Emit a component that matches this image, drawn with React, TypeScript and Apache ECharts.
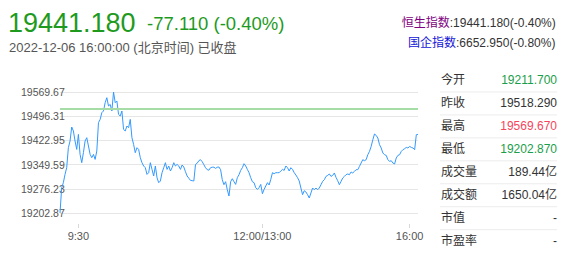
import React, { useEffect, useRef } from 'react';
import * as echarts from 'echarts';

// ---- data ----
const prices: number[] = [
  19202.87, 19279.57, 19294.72, 19319.88, 19340.19, 19400.82, 19421.13, 19463.57, 19451.45, 19421.13,
  19395.67, 19441.14, 19380.51, 19355.35, 19385.67, 19421.13, 19431.14, 19405.98, 19380.51, 19370.51,
  19380.51, 19365.36, 19390.82, 19476.61, 19486.61, 19506.92, 19512.08, 19537.24, 19552.39, 19527.23,
  19532.08, 19512.08, 19569.67, 19537.24, 19542.39, 19501.77,
  19496.92, 19512.08, 19456.3, 19451.45, 19466.6, 19461.45, 19486.61, 19431.14, 19410.83, 19385.67,
  19400.82, 19395.67, 19370.51, 19355.35, 19345.35, 19340.19, 19319.88, 19325.04, 19355.35, 19335.04,
  19315.03, 19345.35, 19309.88, 19294.72, 19299.88, 19325.04, 19340.19, 19355.35, 19335.04, 19345.35,
  19330.19, 19340.19, 19355.35, 19345.35, 19350.2, 19345.35,
  19335.04, 19348.38, 19342.32, 19328.07, 19315.03, 19308.37, 19301.7, 19300.79, 19299.88, 19350.2,
  19353.84, 19361.41, 19364.45, 19358.38, 19349.29, 19340.19, 19334.13, 19332.62, 19340.19, 19341.71,
  19341.71, 19338.07, 19341.71, 19342.32, 19334.13, 19303.82, 19288.66, 19297.76, 19273.5, 19254.41,
  19297.76, 19306.85, 19297.76, 19289.57, 19309.88, 19318.97,
  19332.01, 19340.19, 19352.32, 19345.35, 19335.04, 19325.04, 19309.88, 19297.76, 19294.72, 19279.57,
  19274.41, 19279.57, 19289.57, 19261.38, 19274.41, 19284.72, 19294.72, 19287.75, 19304.73, 19325.04,
  19322.01, 19325.04, 19325.04, 19325.04, 19330.19, 19335.04, 19332.01, 19345.35, 19340.19, 19330.19,
  19340.19, 19335.04, 19325.04, 19318.07, 19309.88, 19299.88,
  19278.66, 19258.35, 19270.48, 19266.53, 19258.35, 19248.34, 19263.5, 19278.66, 19273.5, 19278.66,
  19273.5, 19278.66, 19288.66, 19298.66, 19303.82, 19313.82, 19316.85, 19321.1, 19313.82, 19316.85,
  19324.13, 19310.79, 19300.79, 19288.66, 19298.66, 19308.97, 19313.82, 19318.97, 19321.1, 19318.97,
  19327.16, 19324.13, 19328.98, 19334.13, 19334.13, 19344.14, 19354.44, 19364.45, 19361.41, 19364.45,
  19379.6, 19389.61, 19404.76, 19425.07, 19442.35, 19438.11, 19430.23, 19409.92, 19399.91, 19384.76,
  19379.6, 19377.48, 19364.45, 19359.29, 19361.41, 19354.44, 19351.41, 19369.6, 19377.48, 19379.6,
  19389.61, 19394.76, 19397.79, 19401.73, 19399.91, 19404.76, 19401.73, 19399.91, 19394.76, 19440.23,
  19441.18,
];

const prevClose = 19518.29;
const yMin = 19202.87;
const yMax = 19569.67;
const yInterval = 73.36;

const timeTickIndex = [11, 121, 209];
const timeTickLabels = ['9:30', '12:00/13:00', '16:00'];

const lastPrice = '19441.180';
const changeText = '-77.110 (-0.40%)';
const dateText = '2022-12-06 16:00:00 (北京时间) 已收盘';

const indexNames = ['恒生指数', '国企指数'];
const indexValues = [':19441.180(-0.40%)', ':6652.950(-0.80%)'];

const statLabels = ['今开', '昨收', '最高', '最低', '成交量', '成交额', '市值', '市盈率'];
const statValues = ['19211.700', '19518.290', '19569.670', '19202.870', '189.44亿', '1650.04亿', '-', '-'];
const statKinds = ['down', 'flat', 'up', 'down', 'flat', 'flat', 'flat', 'flat'];

const FONT = '"Liberation Sans", Arial, "Noto Sans CJK SC", sans-serif';
const GREEN = '#1e9a1e';
const TABLE_GREEN = '#1a9e4a';
const RED = '#f5455c';

export default function App() {
  const ref = useRef<HTMLDivElement>(null);

  useEffect(() => {
    if (!ref.current) return;
    const chart = echarts.init(ref.current, undefined, { renderer: 'svg' });

    const graphics: any[] = [];
    graphics.push({
      type: 'text', x: 8, y: 22.5,
      style: { text: lastPrice, fill: GREEN, fontSize: 27, fontFamily: FONT, textVerticalAlign: 'middle', verticalAlign: 'middle' },
    });
    graphics.push({
      type: 'text', x: 147, y: 23,
      style: { text: changeText, fill: GREEN, fontSize: 18.5, fontFamily: FONT, textVerticalAlign: 'middle', verticalAlign: 'middle' },
    });
    graphics.push({
      type: 'text', x: 9, y: 47.5,
      style: { text: dateText, fill: '#555', fontSize: 13, fontFamily: FONT, textVerticalAlign: 'middle', verticalAlign: 'middle' },
    });
    const nameColors = ['#800080', '#1414d8'];
    const nameX = [401.7, 408];
    const nameY = [22.7, 43];
    indexNames.forEach((n, i) => {
      graphics.push({
        type: 'text', x: nameX[i], y: nameY[i],
        style: { text: n, fill: nameColors[i], fontSize: 12, fontFamily: FONT, textVerticalAlign: 'middle', verticalAlign: 'middle' },
      });
      graphics.push({
        type: 'text', x: nameX[i] + 48, y: nameY[i],
        style: { text: indexValues[i], fill: '#333', fontSize: 12, fontFamily: FONT, textVerticalAlign: 'middle', verticalAlign: 'middle' },
      });
    });

    const rowH = 22.95;
    statLabels.forEach((lab, i) => {
      const cy = 80 + i * rowH;
      const kind = statKinds[i];
      const color = kind === 'up' ? RED : kind === 'down' ? TABLE_GREEN : '#333';
      graphics.push({
        type: 'text', x: 441, y: cy,
        style: { text: lab, fill: '#333', fontSize: 12, fontFamily: FONT, textVerticalAlign: 'middle', verticalAlign: 'middle' },
      });
      graphics.push({
        type: 'text', x: 557, y: cy,
        style: { text: statValues[i], fill: color, fontSize: 12, fontFamily: FONT, align: 'right', textAlign: 'right', textVerticalAlign: 'middle', verticalAlign: 'middle' },
      });
      if (i < statLabels.length - 1) {
        graphics.push({
          type: 'line',
          shape: { x1: 440, y1: cy + rowH / 2 + 0.5, x2: 557, y2: cy + rowH / 2 + 0.5 },
          style: { stroke: '#ececec', lineWidth: 1 },
        });
      }
    });

    chart.setOption({
      animation: false,
      grid: { left: 60, right: 153, top: 92, bottom: 40, containLabel: false },
      xAxis: {
        type: 'category',
        boundaryGap: false,
        data: prices.map((_, i) => String(i)),
        offset: 11,
        axisLine: { show: false },
        axisTick: {
          show: true,
          length: 4,
          interval: (i: number) => timeTickIndex.includes(i),
          lineStyle: { color: '#d8d8d8' },
        },
        axisLabel: {
          interval: (i: number) => timeTickIndex.includes(i),
          formatter: (_v: string, i: number) => {
            const k = timeTickIndex.indexOf(i);
            return k >= 0 ? timeTickLabels[k] : '';
          },
          color: '#555',
          fontSize: 11,
          fontFamily: FONT,
          margin: 6,
        },
        splitLine: { show: false },
      },
      yAxis: {
        type: 'value',
        min: yMin,
        max: yMax,
        interval: yInterval,
        axisLine: { show: false },
        axisTick: { show: false },
        splitLine: { lineStyle: { color: '#e6e6e6', width: 1 } },
        axisLabel: {
          formatter: (v: number) => v.toFixed(3),
          color: '#555',
          fontSize: 10.5,
          fontFamily: FONT,
          align: 'left',
          margin: 39,
          width: 46,
          overflow: 'truncate',
          ellipsis: '',
          showMinLabel: true,
          showMaxLabel: true,
        },
      },
      series: [
        {
          type: 'line',
          data: prices,
          showSymbol: false,
          symbol: 'none',
          lineStyle: { color: '#3399ff', width: 1 },
          itemStyle: { color: '#3399ff' },
          silent: true,
          markLine: {
            silent: true,
            symbol: 'none',
            label: { show: false },
            lineStyle: { color: '#a6dca6', width: 2, type: 'solid' },
            data: [{ yAxis: prevClose }],
          },
        },
      ],
      graphic: graphics,
    });

    return () => chart.dispose();
  }, []);

  return (
    <div
      ref={ref}
      style={{ position: 'fixed', left: 0, top: 0, width: 571, height: 253, background: '#fff' }}
    />
  );
}
